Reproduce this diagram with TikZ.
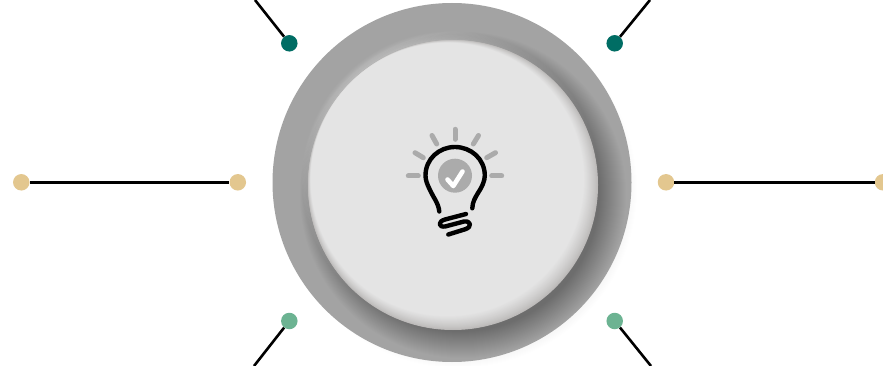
\documentclass[tikz,border=0pt]{standalone}
\definecolor{ringgray}{HTML}{A3A3A3}
\definecolor{facegray}{HTML}{E4E4E4}
\definecolor{faceedge}{HTML}{BBB9B8}
\definecolor{halo}{HTML}{C6C6C6}
\definecolor{raygray}{HTML}{ABABAB}
\definecolor{teal}{HTML}{006D64}
\definecolor{tan}{HTML}{E3C78F}
\definecolor{sage}{HTML}{6CB392}
\tikzset{
  dotnode/.style={circle,inner sep=0pt,minimum size=16.5pt,fill=#1},
  wire/.style={draw=black,line width=2.6pt},
  ray/.style={draw=raygray,line width=5pt,line cap=round},
  bulb/.style={draw=black,line width=4.4pt,line cap=round,line join=round},
  tick/.style={draw=white,line width=4.6pt,line cap=round,line join=round}
}
\begin{document}
\begin{tikzpicture}[x=1pt,y=-1pt]
\useasboundingbox (0,0) rectangle (883,366);
\clip (0,0) rectangle (883,366);
\fill[white] (0,0) rectangle (883,366);
% faint outer shadow
\foreach \i in {0,...,9}{
  \fill[black,opacity=0.004] (458,189) circle ({179-\i});
}
% connectors
\coordinate (tlend) at (255,0);
\coordinate (trend) at (650,0);
\coordinate (blend) at (254,366);
\coordinate (brend) at (651,366);
\node[dotnode=teal] (tl) at (289.3,43.3) {};
\node[dotnode=teal] (tr) at (614.7,43.3) {};
\node[dotnode=tan] (ml1) at (21.3,182.3) {};
\node[dotnode=tan] (ml2) at (237.8,182.3) {};
\node[dotnode=tan] (mr1) at (666,182.3) {};
\node[dotnode=tan] (mr2) at (883,182.3) {};
\node[dotnode=sage] (bl) at (289.3,321) {};
\node[dotnode=sage] (br) at (614.7,321) {};
\draw[wire] (tlend) -- (tl);
\draw[wire] (trend) -- (tr);
\draw[wire] (ml1) -- (ml2);
\draw[wire] (mr1) -- (mr2);
\draw[wire] (blend) -- (bl);
\draw[wire] (brend) -- (br);
% outer ring
\fill[ringgray] (452,182.5) circle (179.5);
\begin{scope}
  \clip (452,182.5) circle (179.5);
  % light halo on upper-left
  \foreach \i in {0,...,12}{
    \pgfmathsetmacro{\p}{100*(\i/12)^1.8}
    \fill[halo!\p!ringgray] (450.5,180) circle ({150.5-\i*0.8});
  }
  % dark soft shadow to the lower right
  \foreach \i in {0,...,26}{
    \fill[black,opacity=0.0125] ({463-\i*0.1},{195-\i*0.1}) circle ({163-\i*0.9});
  }
\end{scope}
% face with soft edge
\foreach \i in {0,...,28}{
  \pgfmathsetmacro{\p}{100*(\i/28)^0.8}
  \fill[facegray!\p!faceedge] ({453-\i*0.2},{185-\i*0.2}) circle ({145-\i*0.3});
}
% rays
\draw[ray] (408.3,176) -- (418.3,176);
\draw[ray] (415,152.7) -- (423.3,157.7);
\draw[ray] (432,135.5) -- (436.7,144);
\draw[ray] (455,129.3) -- (455,139.3);
\draw[ray] (478.5,135.5) -- (473.3,144);
\draw[ray] (495.5,152.7) -- (486.7,157.7);
\draw[ray] (491.7,176) -- (501.7,176);
% bulb
\draw[bulb] (439.3,211.5) .. controls (438.5,203) and (433,197) .. (430,190)
  .. controls (427,184) and (425.5,180) .. (425.5,175.5)
  .. controls (425.5,159) and (439,147) .. (455,147)
  .. controls (471,147) and (484.8,159) .. (484.8,175.5)
  .. controls (484.8,181) and (482,187) .. (478,193)
  .. controls (475,198) and (472.5,202) .. (472.3,208.3);
% screw base
\draw[bulb] (466,214) -- (445,219.5) .. controls (437.5,221.5) and (438.5,227.5) .. (445,226.5)
  -- (464,221.5) .. controls (471,220.5) and (472.5,227) .. (465,229.3) -- (448.3,234.5);
% check badge
\fill[raygray] (455,175.7) circle (17);
\draw[tick] (447.5,179.5) -- (453.3,186) -- (462.5,171.5);
\end{tikzpicture}
\end{document}
